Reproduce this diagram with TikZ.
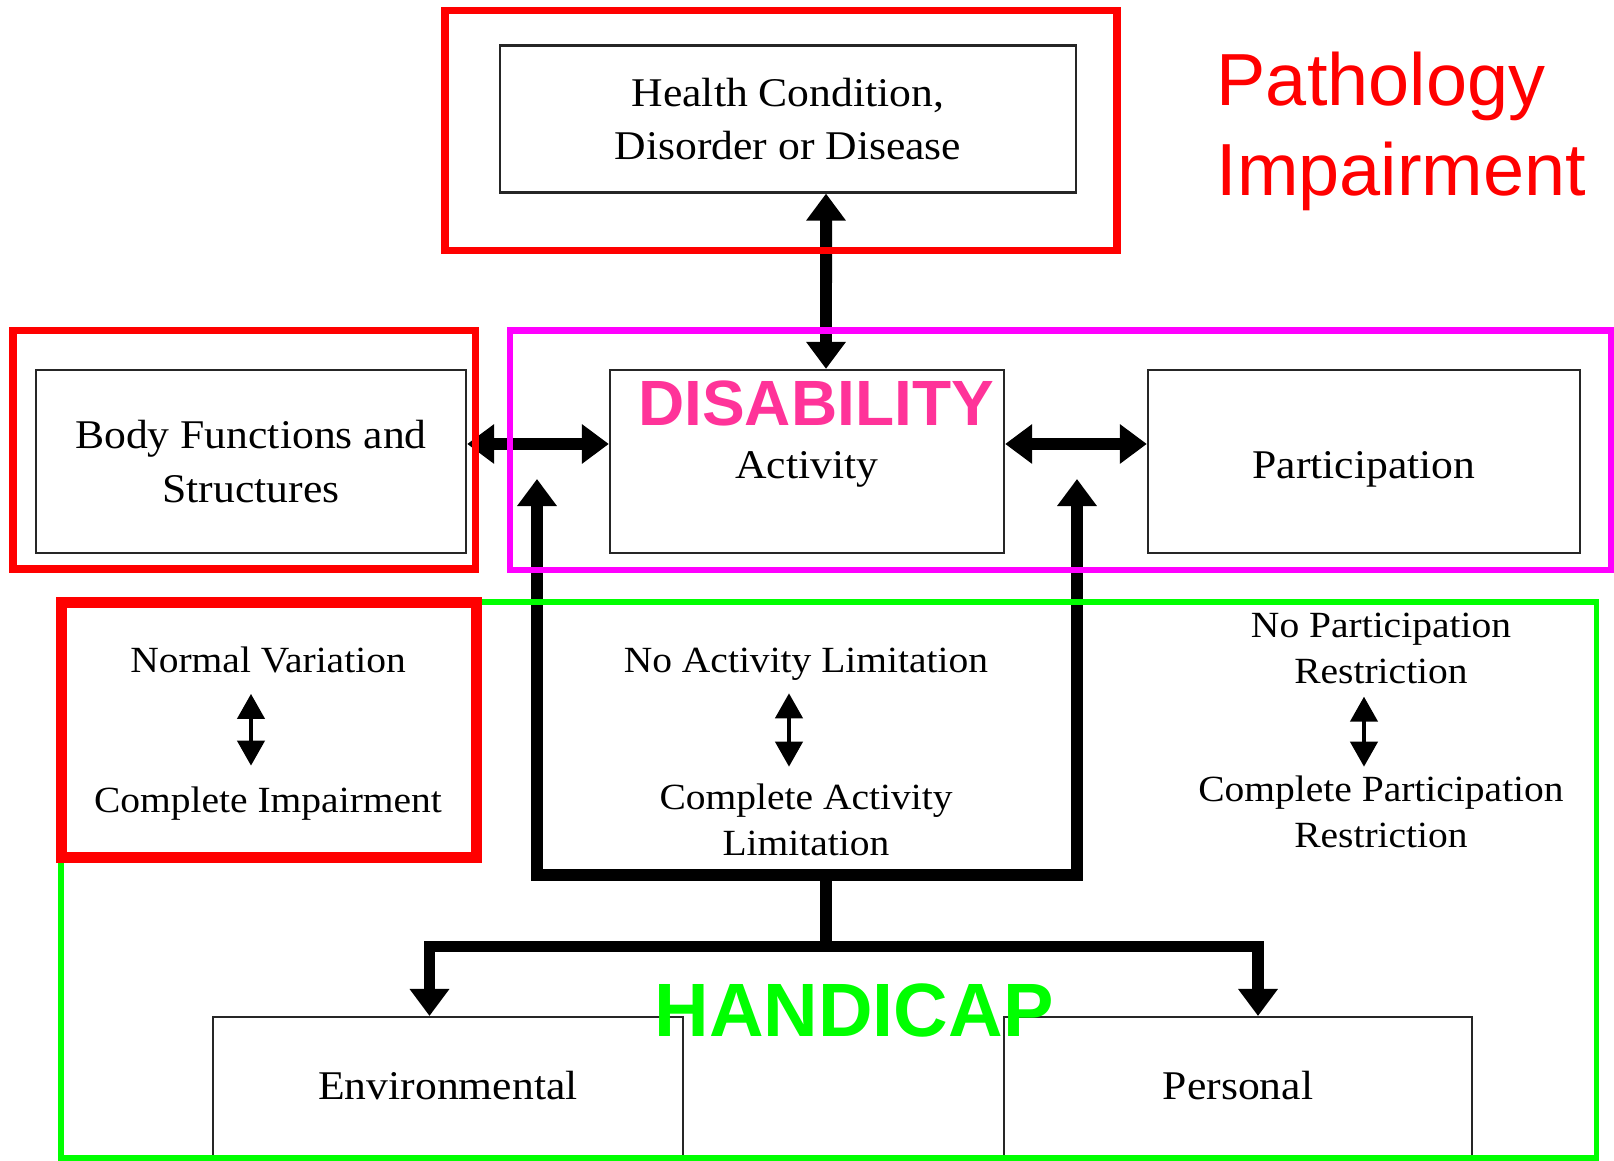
\documentclass[tikz,border=0pt]{standalone}
\usepackage{fontspec}
\setmainfont[FakeStretch=1.07]{Liberation Serif}
\setsansfont{Liberation Sans}
\usetikzlibrary{arrows.meta}

\definecolor{pathred}{HTML}{FF0000}
\definecolor{dismag}{HTML}{FF00FF}
\definecolor{dispink}{HTML}{FF3399}
\definecolor{hangreen}{HTML}{00FF00}

\tikzset{
  box/.style={draw=black!85, line width=0.6pt, inner sep=0pt, align=center,
    font=\fontsize{11.6}{15.3}\selectfont},
  lbl/.style={inner sep=0pt, align=center, font=\fontsize{10.5}{13.2}\selectfont},
  bigline/.style={line width=3.4pt},
  bigtip/.style={bigline, -{Triangle[width=0.38cm,length=0.27cm]}},
  bigboth/.style={bigline,
    {Triangle[width=0.38cm,length=0.27cm]}-{Triangle[width=0.38cm,length=0.27cm]}},
  rng/.style={line width=1.2pt,
    {Triangle[width=0.27cm,length=0.25cm]}-{Triangle[width=0.27cm,length=0.25cm]}},
  hl/.style={line width=#1},
}

\begin{document}
\begin{tikzpicture}[x=0.01cm, y=-0.01cm]
\useasboundingbox (0,0) rectangle (1614,1161);
\clip (0,0) rectangle (1614,1161);

% boxes
\node[box, minimum width=5.76cm, minimum height=1.47cm] (health) at (788,119)
  {Health Condition,\\Disorder or Disease};
\node[box, minimum width=4.30cm, minimum height=1.83cm] (body) at (251,461.5)
  {Body Functions and\\Structures};
\node[box, minimum width=3.94cm, minimum height=1.83cm, text height=0.33cm, text depth=0cm]
  (act) at (807,461.5) {Activity};
\node[box, minimum width=4.32cm, minimum height=1.83cm, text height=0.33cm, text depth=0cm]
  (part) at (1364,461.5) {Participation};
\node[box, minimum width=4.69cm, minimum height=2cm, text height=0cm, text depth=0.35cm,
  anchor=north] (env) at (448,1016) {Environmental};
\node[box, minimum width=4.68cm, minimum height=2cm, text height=0cm, text depth=0.35cm,
  anchor=north] (pers) at (1238,1016) {Personal};

% ranges
\node[lbl, anchor=base] (nv) at (268,672.6) {Normal Variation};
\node[lbl, anchor=base] (ci) at (268,813) {Complete Impairment};
\node[lbl, anchor=base] (na) at (806,672.6) {No Activity Limitation};
\node[lbl, anchor=north] (ca) at (806,782.7) {Complete Activity\\Limitation};
\node[lbl, anchor=north] (np) at (1381,612) {No Participation\\Restriction};
\node[lbl, anchor=north] (cp) at (1381,774.7) {Complete Participation\\Restriction};

\draw[rng, shorten <=0.2cm, shorten >=0.21cm] ([xshift=-0.17cm]nv.south) -- ([xshift=-0.17cm]ci.north);
\draw[rng, shorten <=0.12cm, shorten >=0.16cm] ([xshift=-0.17cm]na.south) -- ([xshift=-0.17cm]ca.north);
\draw[rng, shorten <=0.12cm, shorten >=0.08cm] ([xshift=-0.17cm]np.south) -- ([xshift=-0.17cm]cp.north);

% connectors
\coordinate (upl) at (537,479);
\coordinate (upr) at (1077,479);
\coordinate (hub) at (826,875);
\coordinate (split) at (826,946.5);

\draw[bigboth] ([xshift=0.38cm]health.south) -- ([xshift=0.19cm]act.north);
\draw[bigboth] ([yshift=0.175cm]body.east) -- ([yshift=0.175cm]act.west);
\draw[bigboth] ([yshift=0.175cm]act.east) -- ([yshift=0.175cm]part.west);
\draw[bigboth] (upl) |- (hub) -| (upr);
\draw[bigline] (hub) -- (split);
\draw[bigtip] (split) -| ([xshift=-0.185cm]env.north);
\draw[bigtip] (split) -| ([xshift=0.2cm]pers.north);

% highlight frames
\draw[pathred, hl=2pt] (445,10.4) rectangle (1117,250.4);
\draw[pathred, hl=2pt] (13,330.5) rectangle (475.5,569);
\draw[dismag, hl=1.9pt] (510,330.5) rectangle (1611,570);
\draw[hangreen, hl=1.7pt] (61,602) rectangle (1596.5,1158);
\draw[pathred, hl=3.1pt] (61.5,602.5) rectangle (476.5,857.5);

% headings
\node[inner sep=0pt, align=left, anchor=west, text=pathred,
  font=\sffamily\fontsize{21}{25.6}\selectfont] (patho) at (1216,131.8) {Pathology\\Impairment};
\node[inner sep=0pt, anchor=base, text=dispink,
  font=\sffamily\bfseries\fontsize{18.2}{20}\selectfont] (dis) at (816,426) {DISABILITY};
\node[inner sep=0pt, anchor=base, text=hangreen,
  font=\sffamily\bfseries\fontsize{21.5}{24}\selectfont] (hcap) at (854,1037) {HANDICAP};
\end{tikzpicture}
\end{document}
